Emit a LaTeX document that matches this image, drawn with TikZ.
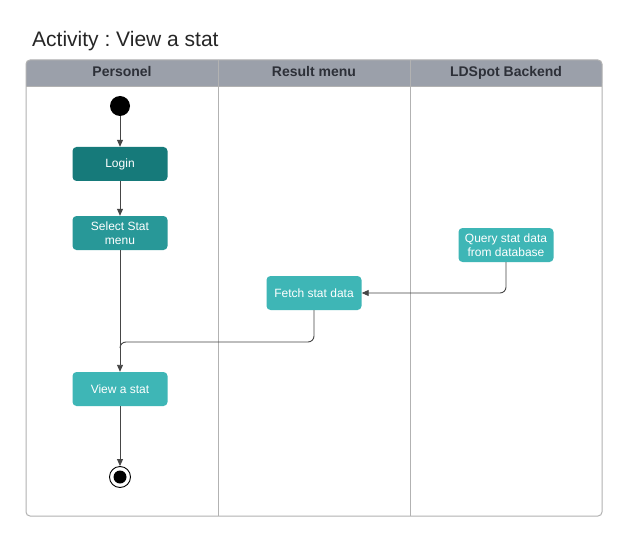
\documentclass[tikz,border=0pt]{standalone}
\usepackage{fontspec}
\setmainfont{Liberation Sans}
\usetikzlibrary{arrows.meta}
\frenchspacing
\definecolor{hdr}{RGB}{155,160,170}
\definecolor{frm}{RGB}{178,178,178}
\definecolor{tealA}{RGB}{22,122,122}
\definecolor{tealB}{RGB}{40,152,152}
\definecolor{tealC}{RGB}{62,182,182}
\definecolor{lnc}{RGB}{70,70,70}
\definecolor{htxt}{RGB}{45,48,56}
\tikzset{
  act/.style={draw=none, rounded corners=4pt, minimum width=95pt, minimum height=34pt,
    text=white, font=\fontsize{12}{14}\selectfont, align=center, inner sep=1pt},
  lanehead/.style={font=\bfseries\fontsize{14}{16}\selectfont, text=htxt, anchor=base, inner sep=0},
  conn/.style={draw=lnc, line width=0.9pt, -{Triangle[length=7pt,width=6pt]}},
  plain/.style={draw=lnc, line width=0.9pt}
}
\begin{document}
\begin{tikzpicture}[x=1pt,y=-1pt]
\useasboundingbox (0,0) rectangle (620,537);
\fill[white] (0,0) rectangle (620,537);
% title
\node[anchor=base west, font=\fontsize{21}{25}\selectfont, text=black!85, inner sep=0] (title) at (32,47) {Activity : View a stat};
% header
\fill[hdr, rounded corners=4pt] (26,60) rectangle (602,87);
\fill[hdr] (26,75) rectangle (602,87);
\draw[frm, line width=1pt, rounded corners=4pt] (26,60) rectangle (602,516);
\draw[frm, line width=1pt] (26,87) -- (602,87);
\draw[frm, line width=1pt] (218,60) -- (218,516);
\draw[frm, line width=1pt] (410,60) -- (410,516);
\node[lanehead] (h1) at (122,76.5) {Personel};
\node[lanehead] (h2) at (314,76.5) {Result menu};
\node[lanehead] (h3) at (506,76.5) {LDSpot Backend};
% nodes
\node[circle, fill=black, minimum size=20pt, inner sep=0] (start) at (120,106) {};
\node[act, fill=tealA] (login) at (120,164) {Login};
\node[act, fill=tealB] (select) at (120,233) {Select Stat\\menu};
\node[act, fill=tealC] (query) at (506,245) {Query stat data\\from database};
\node[act, fill=tealC] (fetch) at (314,293) {Fetch stat data};
\node[act, fill=tealC] (view) at (120,389) {View a stat};
\node[circle, draw=black, line width=0.9pt, minimum size=21pt, inner sep=0] (end) at (120,477) {};
\fill[black] (end.center) circle (6.5pt);
\coordinate (m) at (120,342);
% connectors
\draw[conn] (start) -- (login);
\draw[conn] (login) -- (select);
\draw[conn] (select) -- (view);
\draw[plain, rounded corners=6pt] (fetch.south) -- (fetch.south |- m) -- (m) -- ++(0,6);
\draw[conn, rounded corners=6pt] (query.south) |- (fetch.east);
\draw[conn] (view) -- (end);
\end{tikzpicture}
\end{document}
